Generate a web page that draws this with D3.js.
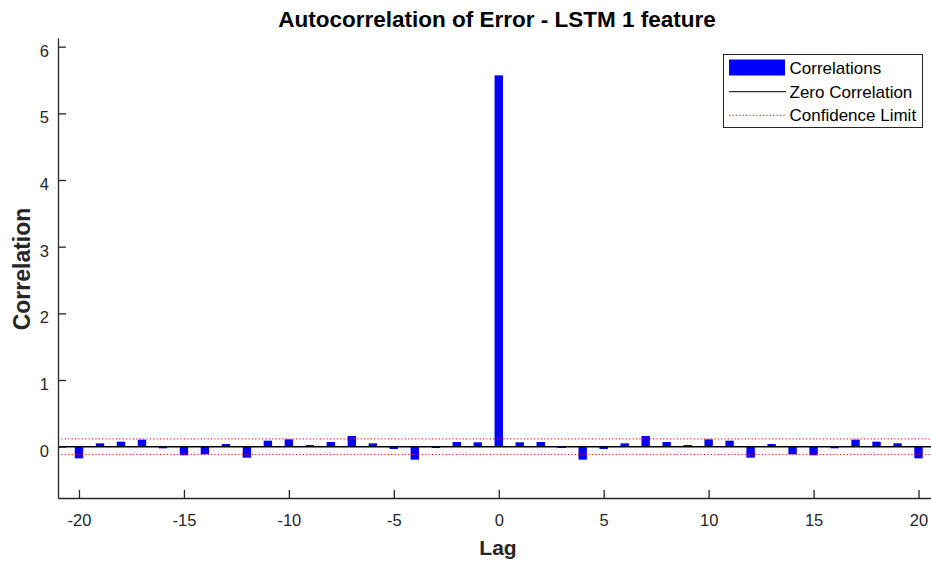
<!DOCTYPE html>
<html>
<head>
<meta charset="utf-8">
<script src="https://cdn.jsdelivr.net/npm/d3@7"></script>
<style>
  html, body { margin: 0; padding: 0; background: #fff; }
  svg { display: block; font-family: "Liberation Sans", Arial, Helvetica, sans-serif; }
</style>
</head>
<body>
<svg id="chart" width="931" height="567"></svg>
<script>
// Autocorrelation of the prediction error, lags -20..20
const lags = d3.range(-20, 21);
const correlations = [
  -0.175, 0.05, 0.075, 0.105, -0.025, -0.13, -0.115, 0.04, -0.165, 0.09,
  0.11, 0.025, 0.07, 0.16, 0.05, -0.035, -0.195, -0.02, 0.07, 0.065,
  5.57,
  0.065, 0.07, -0.02, -0.195, -0.035, 0.05, 0.16, 0.07, 0.025, 0.11,
  0.09, -0.165, 0.04, -0.115, -0.13, -0.025, 0.105, 0.075, 0.05, -0.175
];
const confidenceLimit = 0.116;
const xTicks = [-20, -15, -10, -5, 0, 5, 10, 15, 20];
const yTicks = [0, 1, 2, 3, 4, 5, 6];
const legendLabels = ["Correlations", "Zero Correlation", "Confidence Limit"];
const titleText = "Autocorrelation of Error - LSTM 1 feature";

const svg = d3.select("#chart");
const axisColor = "#262626";

const x = d3.scaleLinear().domain([-21, 21]).range([58, 939.5]);
const y = d3.scaleLinear().domain([-0.77, 6.13]).range([498, 38]);
const barW = x(0.2) - x(-0.2);

// bars
svg.append("g").selectAll("rect")
  .data(lags.map((l, i) => ({ lag: l, v: correlations[i] })))
  .join("rect")
  .attr("x", d => x(d.lag) - barW / 2)
  .attr("width", barW)
  .attr("y", d => y(Math.max(0, d.v)))
  .attr("height", d => Math.abs(y(d.v) - y(0)))
  .attr("fill", "#0000ff");

// zero line
svg.append("line")
  .attr("x1", x(-21)).attr("x2", x(21))
  .attr("y1", y(0)).attr("y2", y(0))
  .attr("stroke", "#000").attr("stroke-width", 1.5);

// confidence limits
[confidenceLimit, -confidenceLimit].forEach(c => {
  svg.append("line")
    .attr("x1", x(-21)).attr("x2", x(21))
    .attr("y1", y(c)).attr("y2", y(c))
    .attr("stroke", "#ff0000").attr("stroke-width", 1)
    .attr("stroke-dasharray", "1.2,2.2");
});

// axes
const fmt = d => String(d);
const xAxis = d3.axisBottom(x).tickValues(xTicks).tickFormat(fmt)
  .tickSizeInner(-8).tickSizeOuter(0).tickPadding(16);
const yAxis = d3.axisLeft(y).tickValues(yTicks).tickFormat(fmt)
  .tickSizeInner(-8).tickSizeOuter(0).tickPadding(9);

const gx = svg.append("g").attr("transform", `translate(0,${y(-0.77)})`).call(xAxis);
const gy = svg.append("g").attr("transform", `translate(${x(-21)},0)`).call(yAxis);
[gx, gy].forEach(g => {
  g.select(".domain").attr("stroke", axisColor).attr("stroke-width", 1.3);
  g.selectAll(".tick line").attr("stroke", axisColor).attr("stroke-width", 1.3);
  g.selectAll(".tick text").attr("fill", axisColor)
    .style("font-size", "16.5px").style("font-family", "Liberation Sans, Arial, sans-serif");
});
gy.selectAll(".tick text").attr("dy", "0.57em");

// title and axis labels
svg.append("text")
  .attr("x", 497).attr("y", 27)
  .attr("text-anchor", "middle")
  .style("font-size", "22.5px").style("font-weight", "bold")
  .attr("fill", "#000")
  .text(titleText);

svg.append("text")
  .attr("x", 498).attr("y", 555)
  .attr("text-anchor", "middle")
  .style("font-size", "21px").style("font-weight", "bold")
  .attr("fill", axisColor)
  .text("Lag");

svg.append("text")
  .attr("transform", `translate(29.5,269) rotate(-90)`)
  .attr("text-anchor", "middle")
  .style("font-size", "23px").style("font-weight", "bold")
  .attr("fill", axisColor)
  .text("Correlation");

// legend
const lg = svg.append("g");
lg.append("rect")
  .attr("x", 723.5).attr("y", 54.5).attr("width", 199).attr("height", 73)
  .attr("fill", "#fff").attr("stroke", axisColor).attr("stroke-width", 1);

const rowY = [67.5, 91.7, 115.3];
lg.append("rect")
  .attr("x", 729).attr("y", rowY[0] - 8).attr("width", 56).attr("height", 16)
  .attr("fill", "#0000ff");
lg.append("line")
  .attr("x1", 729).attr("x2", 786).attr("y1", rowY[1]).attr("y2", rowY[1])
  .attr("stroke", "#000").attr("stroke-width", 1);
lg.append("line")
  .attr("x1", 729).attr("x2", 786).attr("y1", rowY[2]).attr("y2", rowY[2])
  .attr("stroke", "#ff0000").attr("stroke-width", 1).attr("stroke-dasharray", "1.2,2.2");

lg.selectAll("text.lbl")
  .data(legendLabels)
  .join("text")
  .attr("class", "lbl")
  .attr("x", 789.5)
  .attr("y", (d, i) => rowY[i] + 6)
  .style("font-size", "17px")
  .attr("fill", "#000")
  .text(d => d);
</script>
</body>
</html>
